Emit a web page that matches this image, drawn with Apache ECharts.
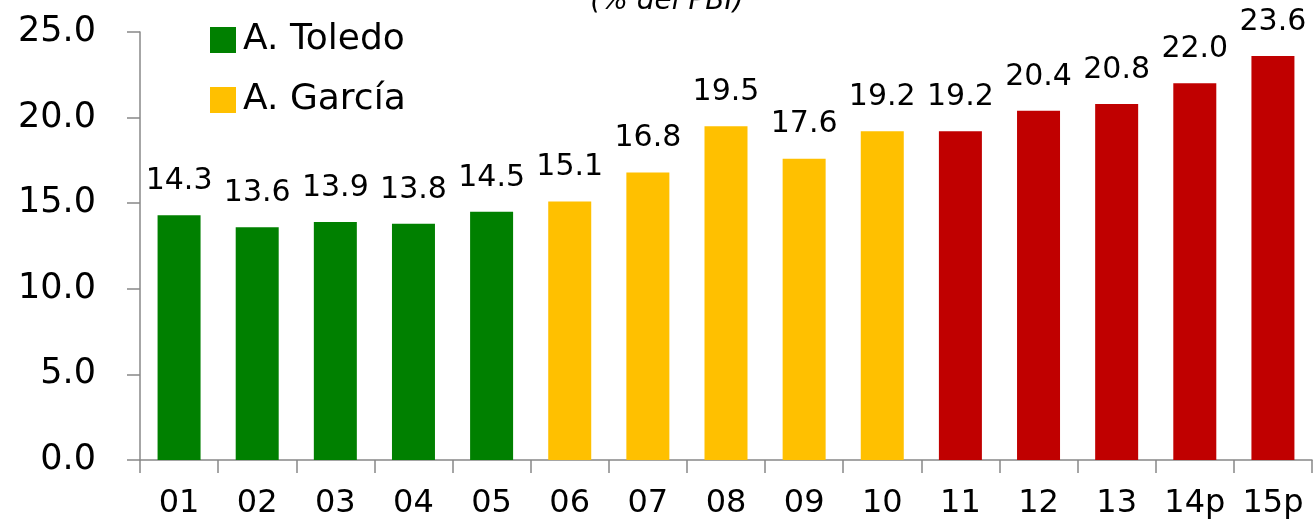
<!DOCTYPE html>
<html><head><meta charset="utf-8">
<script src="https://cdn.jsdelivr.net/npm/echarts@6/dist/echarts.min.js"></script>
<style>html,body{margin:0;padding:0;background:#fff}#c{width:1315px;height:523px}</style>
</head><body><div id="c"></div>
<script>
var categories = ['01','02','03','04','05','06','07','08','09','10','11','12','13','14p','15p'];
var values = [14.3,13.6,13.9,13.8,14.5,15.1,16.8,19.5,17.6,19.2,19.2,20.4,20.8,22.0,23.6];
var periods = ['A. Toledo','A. Toledo','A. Toledo','A. Toledo','A. Toledo','A. García','A. García','A. García','A. García','A. García','O. Humala','O. Humala','O. Humala','O. Humala','O. Humala'];
var seriesNames = ['A. Toledo','A. García','O. Humala'];
var legendNames = ['A. Toledo','A. García'];
var colors = {'A. Toledo':'#008000','A. García':'#FFC000','O. Humala':'#C00000'};

var font = 'DejaVu Sans';
var chart = echarts.init(document.getElementById('c'));
var series = seriesNames.map(function(n){
  return {
    name:n, type:'bar', stack:'s', barWidth:43,
    itemStyle:{color:colors[n]},
    data: values.map(function(v,i){ return periods[i]===n ? v : '-'; }),
    label:{show:true, position:'top', distance:19, color:'#000', fontFamily:font, fontSize:30,
      formatter:function(p){ return p.value.toFixed(1); }},
    animation:false
  };
});
chart.setOption({
  animation:false,
  title:{text:'(% del PBI)', left:662, textAlign:'center', top:-17,
    textStyle:{fontFamily:font, fontStyle:'italic', fontWeight:'normal', fontSize:28, color:'#000'}},
  legend:{data:legendNames, orient:'vertical', left:205, top:17, itemWidth:26, itemHeight:26, itemGap:24,
    icon:'rect', textStyle:{fontFamily:font, fontSize:36, color:'#000', padding:[0,0,0,2]}, selectedMode:false},
  grid:{left:140, right:3, top:32, bottom:63},
  xAxis:{type:'category', data:categories,
    axisLine:{lineStyle:{color:'#888', width:1.5}},
    axisTick:{show:true, length:13, interval:0, alignWithLabel:false, lineStyle:{color:'#888', width:1.5}},
    axisLabel:{color:'#000', fontFamily:font, fontSize:32, margin:28, interval:0}},
  yAxis:{type:'value', min:0, max:25, interval:5,
    axisLine:{show:true, lineStyle:{color:'#888', width:1.5}},
    axisTick:{show:true, length:13, lineStyle:{color:'#888', width:1.5}},
    splitLine:{show:false},
    axisLabel:{color:'#000', fontFamily:font, fontSize:35, margin:44, padding:[0,0,10,0],
      formatter:function(v){ return v.toFixed(1); }}},
  series:series
});
</script></body></html>
